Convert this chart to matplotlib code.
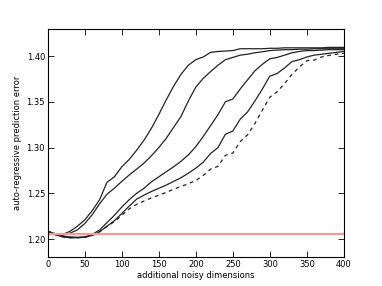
import numpy as np
import matplotlib
matplotlib.use('Agg')
import matplotlib.pyplot as plt

# x positions (additional noisy dimensions), sampled every 10
dims = list(range(0, 410, 10))

# solid curves, left to right
err_a = [1.2085, 1.206, 1.205, 1.2085, 1.214, 1.221, 1.231, 1.243, 1.262, 1.268,
         1.279, 1.287, 1.297, 1.308, 1.321, 1.336, 1.352, 1.367, 1.380, 1.390,
         1.396, 1.399, 1.404, 1.405, 1.4055, 1.406, 1.408, 1.408, 1.408, 1.408,
         1.4085, 1.4085, 1.409, 1.409, 1.409, 1.409, 1.409, 1.409, 1.4095, 1.4095, 1.4095]
err_b = [1.2085, 1.205, 1.204, 1.2065, 1.210, 1.217, 1.2265, 1.2385, 1.249, 1.2556,
         1.263, 1.270, 1.2764, 1.283, 1.291, 1.300, 1.310, 1.322, 1.334, 1.351,
         1.366, 1.3756, 1.383, 1.390, 1.396, 1.3985, 1.401, 1.402, 1.4036, 1.4047,
         1.406, 1.4065, 1.407, 1.407, 1.4075, 1.4075, 1.408, 1.408, 1.408, 1.408, 1.408]
err_c = [1.2085, 1.205, 1.203, 1.2025, 1.202, 1.2025, 1.205, 1.210, 1.218, 1.226,
         1.235, 1.243, 1.250, 1.2555, 1.2625, 1.268, 1.2735, 1.279, 1.285, 1.292,
         1.301, 1.312, 1.324, 1.336, 1.350, 1.353, 1.364, 1.374, 1.384, 1.391,
         1.397, 1.3985, 1.401, 1.4036, 1.405, 1.406, 1.406, 1.4065, 1.407, 1.407, 1.407]
err_d = [1.2085, 1.205, 1.2025, 1.2015, 1.2015, 1.202, 1.204, 1.208, 1.214, 1.220,
         1.228, 1.236, 1.2436, 1.248, 1.252, 1.2555, 1.259, 1.263, 1.267, 1.272,
         1.2775, 1.284, 1.2935, 1.300, 1.3145, 1.318, 1.331, 1.339, 1.351, 1.364,
         1.378, 1.381, 1.387, 1.394, 1.396, 1.399, 1.401, 1.402, 1.403, 1.404, 1.405]
# dashed curve
err_e = [1.2085, 1.205, 1.2025, 1.2015, 1.2015, 1.202, 1.204, 1.208, 1.214, 1.219,
         1.226, 1.233, 1.238, 1.2415, 1.245, 1.248, 1.251, 1.2545, 1.2575, 1.2605,
         1.264, 1.2695, 1.2765, 1.2795, 1.2915, 1.294, 1.3065, 1.314, 1.3265, 1.341,
         1.355, 1.361, 1.370, 1.380, 1.388, 1.395, 1.3956, 1.399, 1.4007, 1.402, 1.403]
baseline = 1.2057

fig = plt.figure(figsize=(3.82, 2.86), dpi=100)
ax = fig.add_axes([0.125, 0.1, 0.775, 0.8])

for err in [err_a, err_b, err_c, err_d]:
    ax.plot(dims, err, color='#222222', lw=0.9)
ax.plot(dims, err_e, color='#222222', lw=0.9, linestyle='--', dashes=(3, 3))
ax.axhline(baseline, color='#f59a9a', lw=1.6)

ax.set_xlim(0, 400)
ax.set_ylim(1.18, 1.43)
ax.set_xticks(range(0, 450, 50))
ax.set_yticks([1.20, 1.25, 1.30, 1.35, 1.40])
ax.tick_params(direction='in', top=True, right=True, labelsize=6, length=4, width=0.6, pad=2)
for s in ax.spines.values():
    s.set_linewidth(0.8)
ax.set_xlabel('additional noisy dimensions', fontsize=6, labelpad=1)
ax.set_ylabel('auto-regressive prediction error', fontsize=6, labelpad=3)

fig.savefig('out.png', dpi=100)
